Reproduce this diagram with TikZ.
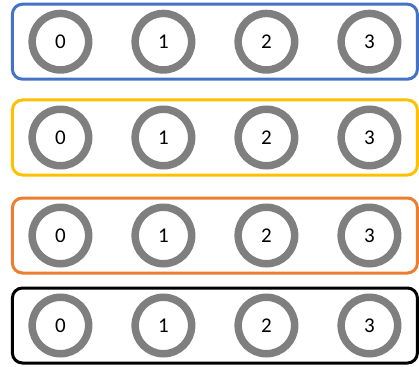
\documentclass[tikz,border=0pt]{standalone}
\usepackage{fontspec}
\setmainfont{Carlito}
\usetikzlibrary{positioning,fit,backgrounds}
\definecolor{ringgray}{HTML}{7F7F7F}
\definecolor{rowblue}{HTML}{4472C4}
\definecolor{rowgold}{HTML}{FFC000}
\definecolor{roworange}{HTML}{ED7D31}
\definecolor{rowblack}{HTML}{000000}
\begin{document}
\begin{tikzpicture}[x=1pt,y=-1pt,font=\fontsize{21}{21}\selectfont,
  ring/.style={circle,draw=ringgray,line width=7.5pt,minimum size=56.5pt,inner sep=0pt},
  rowbox/.style={draw=#1,rounded corners=10pt,line width=3pt,inner xsep=16pt,inner ysep=5.5pt}]
\useasboundingbox (0,0) rectangle (419,366);
% first row
\node[ring] (b0) at (60.4,41.7) {0};
\node[ring,right=39pt of b0] (b1) {1};
\node[ring,right=39pt of b1] (b2) {2};
\node[ring,right=39pt of b2] (b3) {3};
% second row
\node[ring] (g0) at (60.4,137.5) {0};
\node[ring,right=39pt of g0] (g1) {1};
\node[ring,right=39pt of g1] (g2) {2};
\node[ring,right=39pt of g2] (g3) {3};
% third row
\node[ring] (o0) at (60.4,235.5) {0};
\node[ring,right=39pt of o0] (o1) {1};
\node[ring,right=39pt of o1] (o2) {2};
\node[ring,right=39pt of o2] (o3) {3};
% fourth row
\node[ring] (k0) at (60.4,325.5) {0};
\node[ring,right=39pt of k0] (k1) {1};
\node[ring,right=39pt of k1] (k2) {2};
\node[ring,right=39pt of k2] (k3) {3};
\begin{scope}[on background layer]
\node[rowbox=rowblue,fit=(b0)(b3)] (B) {};
\node[rowbox=rowgold,fit=(g0)(g3)] (G) {};
\node[rowbox=roworange,fit=(o0)(o3)] (O) {};
\node[rowbox=rowblack,fit=(k0)(k3)] (K) {};
\end{scope}
\end{tikzpicture}
\end{document}
